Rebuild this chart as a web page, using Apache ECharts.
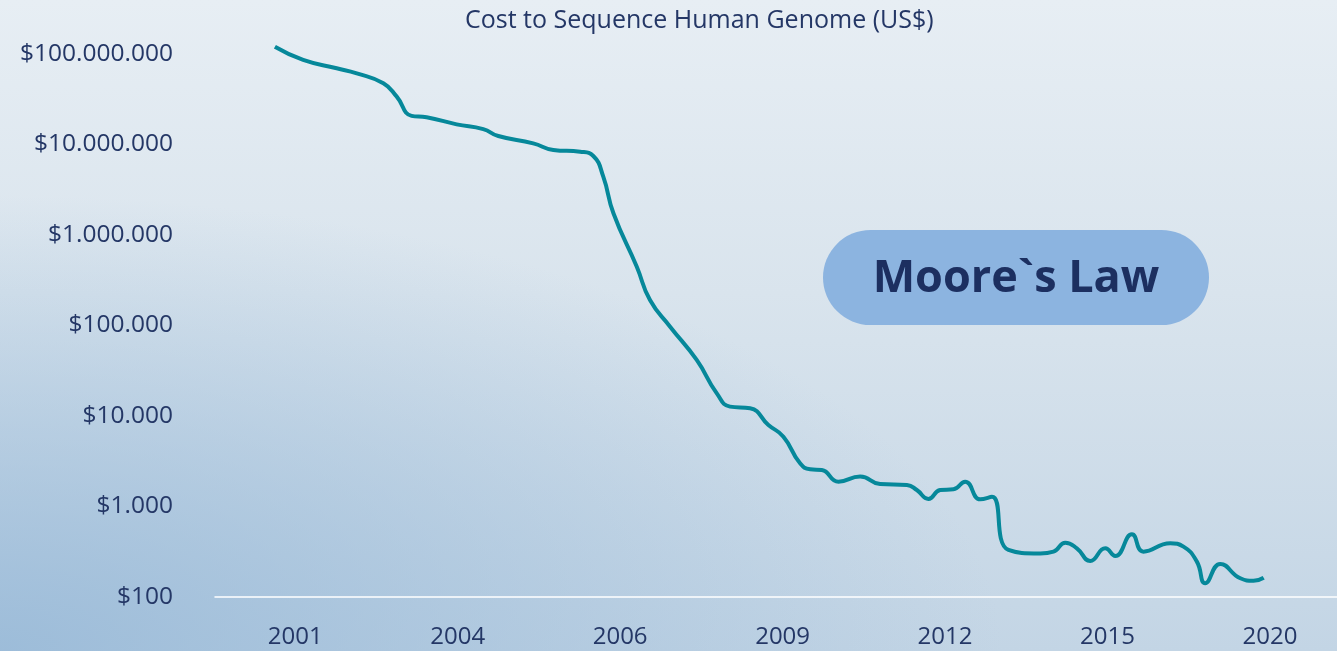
<!DOCTYPE html>
<html>
<head>
<meta charset="utf-8">
<title>Cost to Sequence Human Genome</title>
<script src="https://cdn.jsdelivr.net/npm/echarts@6/dist/echarts.min.js"></script>
<style>
    html, body { margin: 0; padding: 0; }
    body {
        width: 1337px;
        height: 651px;
        background:
            radial-gradient(ellipse 75% 70% at 0% 100%, rgba(150, 184, 215, 0.85), rgba(150, 184, 215, 0) 100%),
            linear-gradient(to bottom, #e7eef4 0%, #d9e4ed 45%, #c3d5e5 100%);
    }
    #chart { width: 1337px; height: 651px; }
</style>
</head>
<body>
<div id="chart"></div>
<script>
// x is a period index: the year labels sit every 8 periods
const period = [0, 1.39, 3.04, 4.03, 5.34, 6.0, 6.73, 7.47, 8.95, 10.26,
    11.0, 12.72, 13.71, 15.03, 15.68, 16.17, 16.67, 17.82, 18.47, 19.46,
    20.77, 21.76, 22.41, 23.4, 24.3, 25.04, 25.86, 26.36, 26.93, 27.75,
    28.82, 29.8, 31.12, 31.61, 32.18, 32.76, 33.41, 33.99, 34.73, 35.31,
    36.12, 37.69, 38.34, 38.92, 39.49, 40.15, 40.89, 41.38, 42.2, 42.77,
    44.09, 44.74, 45.4, 45.81, 46.55, 47.54, 48.19, 48.69];
const cost = [120000000, 85900000, 69500000, 61200000, 47500000, 33800000, 20700000, 20000000, 16700000, 14800000,
    12400000, 10300000, 8700000, 8330000, 7460000, 4410000, 1740000, 446000, 191000, 97000,
    41600, 17800, 12700, 12200, 7950, 5910, 3000, 2580, 2530, 1880,
    2140, 1770, 1730, 1520, 1210, 1520, 1550, 1880, 1200, 1280,
    331, 303, 317, 398, 345, 250, 345, 284, 493, 317,
    392, 360, 246, 142, 232, 161, 151, 163];
const yearLabels = ["2001", "2004", "2006", "2009", "2012", "2015", "2020"];
const yearLabelPos = [1, 9, 17, 25, 33, 41, 49];

const textColor = "#243766";

function money(v) {
    const n = Math.round(v);
    return "$" + String(n).replace(/\B(?=(\d{3})+(?!\d))/g, ".");
}

const chart = echarts.init(document.getElementById("chart"), null, { renderer: "canvas" });

chart.setOption({
    backgroundColor: "transparent",
    animation: false,
    title: {
        text: "Cost to Sequence Human Genome (US$)",
        left: 460,
        top: 3,
        textStyle: {
            color: textColor,
            fontFamily: "Open Sans",
            fontSize: 25,
            fontWeight: "normal"
        }
    },
    grid: {
        left: 215,
        right: 0,
        top: 54,
        bottom: 54
    },
    xAxis: {
        type: "value",
        min: -2.95,
        max: 52.3,
        axisLine: { show: true, lineStyle: { color: "#ffffff", width: 1.5 } },
        axisTick: { show: false },
        splitLine: { show: false },
        axisLabel: {
            customValues: yearLabelPos,
            margin: 28,
            color: textColor,
            fontFamily: "Open Sans",
            fontSize: 24,
            formatter: v => yearLabels[yearLabelPos.indexOf(Math.round(v))] || ""
        }
    },
    yAxis: {
        type: "log",
        logBase: 10,
        min: 100,
        max: 100000000,
        interval: 1,
        axisLine: { show: false },
        axisTick: { show: false },
        splitLine: { show: false },
        axisLabel: {
            margin: 42,
            padding: [5, 0, 0, 0],
            color: textColor,
            fontFamily: "Open Sans",
            fontSize: 24.5,
            formatter: money
        }
    },
    graphic: [
        {
            type: "group",
            left: 823,
            top: 230,
            children: [
                {
                    type: "rect",
                    shape: { x: 0, y: 0, width: 386, height: 95, r: 47.5 },
                    style: { fill: "#8cb4e0" }
                },
                {
                    type: "text",
                    style: {
                        text: "Moore`s Law",
                        x: 193,
                        y: 49,
                        align: "center",
                        verticalAlign: "middle",
                        fill: "#1c2f60",
                        font: "bold 45px 'Open Sans'"
                    }
                }
            ]
        }
    ],
    series: [
        {
            type: "line",
            data: period.map((p, i) => [p, cost[i]]),
            smooth: true,
            clip: false,
            showSymbol: false,
            lineStyle: { color: "#06889a", width: 4 }
        }
    ]
});
</script>
</body>
</html>
